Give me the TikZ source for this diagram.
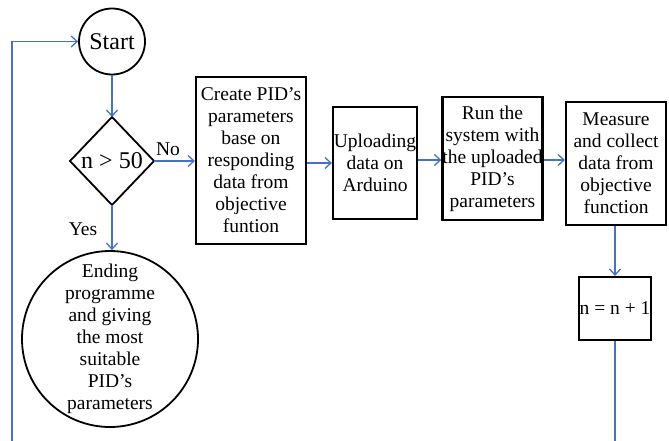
\documentclass[tikz,border=0pt]{standalone}
\usepackage{fontspec}
\setmainfont{Liberation Serif}
\usetikzlibrary{arrows.meta}
\definecolor{lnblue}{HTML}{4472C4}
\begin{document}
\begin{tikzpicture}[x=1pt,y=-1pt,
  txt/.style={font=\fontsize{19.5}{22}\selectfont, align=center, inner sep=0pt},
  bigtxt/.style={font=\fontsize{24}{26}\selectfont, inner sep=0pt},
  boxnode/.style={draw=black, line width=2.2pt, txt, rectangle},
  flow/.style={draw=lnblue, line width=1.3pt, -{Straight Barb[length=6pt,width=11pt]}},
  plainflow/.style={draw=lnblue, line width=1.3pt}
]
\useasboundingbox (0,0) rectangle (669,440);
\clip (0,0) rectangle (669,440);

\node[draw, circle, line width=1.8pt, minimum size=66pt, bigtxt] (start) at (112,41.5) {Start};
\node[bigtxt, minimum width=84pt, minimum height=88pt, shape=rectangle, draw=none] (dec) at (112,161) {n > 50};
\draw[line width=1.8pt] (70,161) -- (112,117) -- (154,161) -- (112,205) -- cycle;
\coordinate (decT) at (112,117);
\coordinate (decR) at (154,161);
\coordinate (decB) at (112,205);

\node[draw, circle, line width=1.8pt, minimum size=176pt, txt] (endc) at (110,339)
  {Ending\\programme\\and giving\\the most\\suitable\\PID’s\\parameters};

\node[boxnode, minimum width=110pt, minimum height=167pt] (create) at (251,160.5)
  {Create PID’s\\parameters\\base on\\responding\\data from\\objective\\funtion};
\node[boxnode, minimum width=84pt, minimum height=112pt] (upload) at (375,163)
  {Uploading\\data on\\Arduino};
\node[boxnode, minimum width=99pt, minimum height=123pt] (run) at (492.5,158.5)
  {Run the\\system with\\the uploaded\\PID’s\\parameters};
\node[boxnode, minimum width=100pt, minimum height=123pt] (meas) at (616,163.5)
  {Measure\\and collect\\data from\\objective\\function};
\node[boxnode, minimum width=72pt, minimum height=63pt] (inc) at (615,308.5)
  {n = n + 1};

\node[txt] (no) at (168,149) {No};
\node[txt] (yes) at (83,229) {Yes};

\draw[flow] (start.south) -- (decT);
\draw[flow] (decR) -- (decR -| create.west);
\draw[flow] (decB) -- (decB |- endc.north);
\draw[flow] (create.east |- upload.west) -- (upload.west);
\draw[flow] (upload.east |- 0,160) -- (run.west |- 0,160);
\draw[flow] (run.east |- 0,160) -- (meas.west |- 0,160);
\draw[flow] (meas.south -| inc.north) -- (inc.north);
\coordinate (low) at (615,450);
\coordinate (lowL) at (12,450);
\draw[plainflow] (inc.south) -- (low) -- (lowL);
\draw[flow] (lowL) |- (start.west);
\end{tikzpicture}
\end{document}
